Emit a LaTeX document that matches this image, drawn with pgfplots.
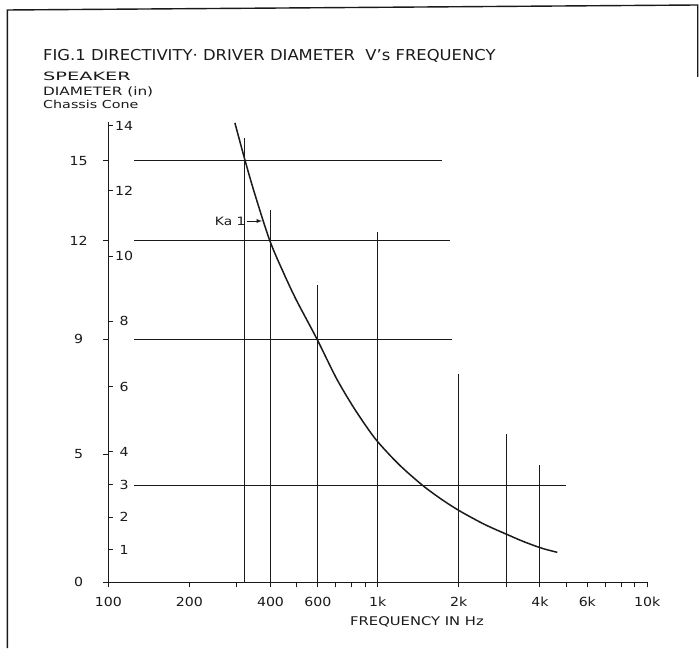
\documentclass[border=0pt]{standalone}
\usepackage{fontspec}
\setmainfont{DejaVu Sans}
\newfontfamily\tickfont{DejaVu Sans}[FakeStretch=1.13]
\usepackage{graphicx}
\usepackage{pgfplots}
\pgfplotsset{compat=1.18}
\definecolor{ink}{HTML}{1A1A1A}
\begin{document}
\begin{tikzpicture}[x=1pt,y=1pt]
\useasboundingbox (0,0) rectangle (699,659);
\draw[ink,line width=1.4pt] (7.3,11) -- (7.3,649) -- (697.7,654) -- (697.7,582);
\node[anchor=base west,inner sep=0,ink] at (43,598.5) {\fontsize{15}{18}\selectfont\scalebox{1.093}[1]{FIG.1 DIRECTIVITY· DRIVER DIAMETER\ \ V’s FREQUENCY}};
\node[anchor=base west,inner sep=0,ink] at (43,578.1) {\fontsize{11.5}{13}\selectfont\scalebox{1.68}[1]{SPEAKER}};
\node[anchor=base west,inner sep=0,ink] at (43,563.3) {\fontsize{11.5}{13}\selectfont\scalebox{1.33}[1]{DIAMETER (in)}};
\node[anchor=base west,inner sep=0,ink] at (43,550.7) {\fontsize{11}{13}\selectfont\scalebox{1.3}[1]{Chassis Cone}};
\node[anchor=base,inner sep=0,ink] at (417,34) {\fontsize{12}{14}\selectfont\scalebox{1.23}[1]{FREQUENCY IN Hz}};
\begin{axis}[
  at={(108.3pt,76.7pt)}, anchor=south west,
  scale only axis, width=538.8pt, height=460.6pt,
  xmode=log, xmin=100, xmax=10000, ymin=0, ymax=14.125,
  axis lines*=left,
  axis line style={ink, line width=1.5pt, -},
  xtick={100,200,400,600,1000,2000,4000,6000,10000},
  xticklabels={100,200,400,600,1k,2k,4k,6k,10k},
  minor xtick={300,500,700,800,900,3000,5000,7000,8000,9000},
  ytick={1,2,3,4,6,8,10,12,14},
  yticklabels={1,2,3,4,6,8,10,12,14},
  extra y ticks={0,3.93,7.46,10.47,12.93},
  extra y tick labels={0,5,9,12,15},
  xtick align=outside, ytick align=inside,
  extra y tick style={ytick align=outside, yticklabel style={xshift=-40.5pt}},
  major tick length=5pt, minor tick length=5pt,
  tick style={ink, line width=1pt},
  ticklabel style={font=\tickfont\fontsize{12.5}{14}\selectfont, text=ink},
  yticklabel style={anchor=center, xshift=15.7pt},
  xticklabel style={anchor=center, yshift=-14.6pt},
  /pgf/number format/assume math mode=true,
  clip=false,
]
% horizontal guide lines
\addplot[ink, line width=0.9pt] coordinates {(124.6,12.93) (1728,12.93)};
\addplot[ink, line width=0.9pt] coordinates {(124.6,10.47) (1855,10.47)};
\addplot[ink, line width=0.9pt] coordinates {(124.6,7.46) (1892,7.46)};
\addplot[ink, line width=0.9pt] coordinates {(124.6,2.98) (4988,2.98)};
% vertical guide lines
\addplot[ink, line width=0.9pt] coordinates {(320,0) (320,13.62)};
\addplot[ink, line width=0.9pt] coordinates {(400,0) (400,11.42)};
\addplot[ink, line width=0.9pt] coordinates {(600,0) (600,9.12)};
\addplot[ink, line width=0.9pt] coordinates {(1000,0) (1000,10.75)};
\addplot[ink, line width=0.9pt] coordinates {(2000,0) (2000,6.38)};
\addplot[ink, line width=0.9pt] coordinates {(3000,0) (3000,4.55)};
\addplot[ink, line width=0.9pt] coordinates {(4000,0) (4000,3.60)};
% ka = 1 curve
\addplot[ink, line width=1.5pt, smooth] coordinates {
(295,14.09) (322,12.93) (350,11.90) (398,10.47) (450,9.44) (500,8.64) (595,7.46)
(700,6.28) (800,5.46) (900,4.82) (1000,4.31) (1200,3.61) (1469,2.97) (1750,2.51)
(2038,2.165) (2500,1.77) (3053,1.45) (3500,1.24) (4083,1.04) (4642,0.92)};
\draw[ink, line width=0.9pt, -latex] (axis cs:326,11.08) -- (axis cs:372,11.08);
\node[anchor=east, inner sep=1pt, ink] at (axis cs:326,11.08) {\fontsize{11.5}{13}\selectfont\scalebox{1.2}[1]{Ka 1}};
\end{axis}
\end{tikzpicture}
\end{document}
